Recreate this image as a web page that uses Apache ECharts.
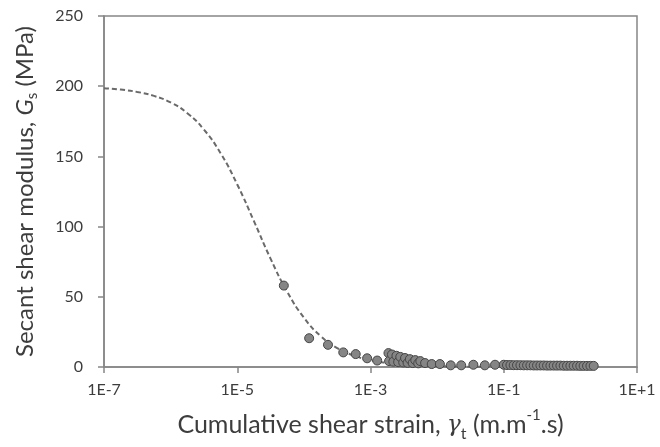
<!DOCTYPE html>
<html>
<head>
<meta charset="utf-8">
<script src="https://cdn.jsdelivr.net/npm/echarts@6/dist/echarts.min.js"></script>
<style>html,body{margin:0;padding:0;background:#fff;}#c{width:660px;height:447px;}</style>
</head>
<body>
<div id="c"></div>
<script>
// Measured points: cumulative shear strain (m.m-1.s) and secant shear modulus (MPa)
var strainPts = [5.0e-5, 1.2e-4, 2.3e-4, 3.9e-4, 6.0e-4, 8.9e-4, 1.26e-3,
  1.86e-3, 1.9e-3, 2.1e-3, 2.2e-3, 2.45e-3, 2.6e-3, 2.8e-3, 3.1e-3, 3.3e-3, 3.6e-3,
  3.9e-3, 4.3e-3, 4.7e-3, 5.2e-3, 5.6e-3, 6.6e-3, 8.3e-3, 1.1e-2, 1.6e-2, 2.3e-2,
  3.5e-2, 5.2e-2, 7.4e-2, 0.1, 0.112, 0.126, 0.141, 0.158, 0.178, 0.2, 0.224, 0.251,
  0.282, 0.316, 0.355, 0.398, 0.447, 0.501, 0.562, 0.631, 0.708, 0.794, 0.891, 1.0,
  1.12, 1.26, 1.41, 1.58, 1.78, 2.0, 2.24];
var modulusPts = [58, 20.5, 15.8, 10.4, 9.2, 6.2, 4.6,
  9.9, 4.2, 8.9, 3.8, 8.0, 3.5, 7.2, 3.2, 6.4, 2.9,
  5.6, 2.8, 4.9, 2.6, 4.2, 2.8, 2.1, 2.1, 1.2, 1.2,
  1.6, 1.2, 1.6, 1.6, 1.4, 1.4, 1.3, 1.3, 1.3, 1.2, 1.2, 1.2,
  1.1, 1.1, 1.1, 1.1, 1.0, 1.0, 1.0, 1.0, 1.0, 0.9, 0.9, 0.9,
  0.9, 0.9, 0.8, 0.8, 0.8, 0.8, 0.8];
// Fitted (dashed) curve
var curveStrain = [1e-7, 1.78e-7, 3.16e-7, 5.62e-7, 1e-6, 1.78e-6, 3.16e-6, 5.62e-6,
  1e-5, 1.78e-5, 3.16e-5, 5.62e-5, 1e-4, 1.78e-4, 3.16e-4, 5.62e-4, 1e-3, 1.78e-3,
  3.16e-3, 5.62e-3, 1e-2, 3.16e-2, 0.1, 0.316, 1, 2.2];
var curveModulus = [198.6, 197.6, 195.9, 193.1, 188.4, 180.8, 169.1, 152.3,
  130.0, 103.9, 77.2, 53.6, 35.2, 22.1, 13.5, 8.1, 4.8, 2.8,
  1.65, 0.96, 0.56, 0.19, 0.06, 0.02, 0.006, 0.003];
var yTicks = [0, 50, 100, 150, 200, 250];
var xTickLabels = ['1E-7', '1E-5', '1E-3', '1E-1', '1E+1'];

var FONT = 'Lato';
var TXT = '#3d3d3d';
var chart = echarts.init(document.getElementById('c'));
chart.setOption({
  animation: false,
  grid: {left: 104, right: 23, top: 16, bottom: 78, show: true,
         borderColor: '#868686', borderWidth: 1.5, backgroundColor: 'transparent'},
  xAxis: {
    type: 'log', logBase: 10, min: 1e-7, max: 10, interval: 2,
    axisLine: {lineStyle: {color: '#868686', width: 1.5}},
    axisTick: {show: true, length: 6, lineStyle: {color: '#868686', width: 1.5}},
    splitLine: {show: false},
    minorTick: {show: false},
    axisLabel: {color: TXT, fontFamily: FONT, fontSize: 16, margin: 15,
      formatter: function (v) {
        var e = Math.round(Math.log10(v));
        var lbl = '1E' + (e >= 0 ? '+' : '') + e;
        return xTickLabels.indexOf(lbl) >= 0 ? lbl : '';
      }},
    name: '{t|Cumulative shear strain, }{g|γ}{s|t}{t| (m.m}{p|-1}{t|.s)}',
    nameLocation: 'middle', nameGap: 41,
    nameTextStyle: {
      rich: {
        t: {fontFamily: FONT, fontSize: 25, color: TXT, lineHeight: 30},
        g: {fontFamily: 'DejaVu Serif', fontStyle: 'italic', fontSize: 23, color: TXT, lineHeight: 30},
        s: {fontFamily: FONT, fontSize: 16, color: TXT, lineHeight: 23, verticalAlign: 'bottom'},
        p: {fontFamily: FONT, fontSize: 15, color: TXT, lineHeight: 34, verticalAlign: 'top'}
      }
    }
  },
  yAxis: {
    type: 'value', min: 0, max: 250, interval: 50,
    axisLine: {show: true, lineStyle: {color: '#868686', width: 1.5}},
    axisTick: {show: true, length: 6, lineStyle: {color: '#868686', width: 1.5}},
    splitLine: {show: false},
    axisLabel: {color: TXT, fontFamily: FONT, fontSize: 16, margin: 21,
      formatter: function (v) { return yTicks.indexOf(v) >= 0 ? String(v) : ''; }},
    name: '{t|Secant shear modulus, }{g|G}{s|s}{t| (MPa)}',
    nameLocation: 'middle', nameGap: 64,
    nameTextStyle: {
      rich: {
        t: {fontFamily: FONT, fontSize: 24, color: TXT, lineHeight: 30},
        g: {fontFamily: FONT, fontStyle: 'italic', fontSize: 24, color: TXT, lineHeight: 30},
        s: {fontFamily: FONT, fontSize: 15, color: TXT, lineHeight: 24, verticalAlign: 'bottom'}
      }
    }
  },
  series: [
    {
      type: 'line', smooth: true, symbol: 'none', z: 2,
      data: curveStrain.map(function (x, i) { return [x, curveModulus[i]]; }),
      lineStyle: {color: '#6a6a6a', width: 2, type: [5, 3]}
    },
    {
      type: 'scatter', symbol: 'circle', symbolSize: 9, z: 3,
      data: strainPts.map(function (x, i) { return [x, modulusPts[i]]; }),
      itemStyle: {color: '#858585', borderColor: '#454545', borderWidth: 1, opacity: 1}
    }
  ]
});
</script>
</body>
</html>
